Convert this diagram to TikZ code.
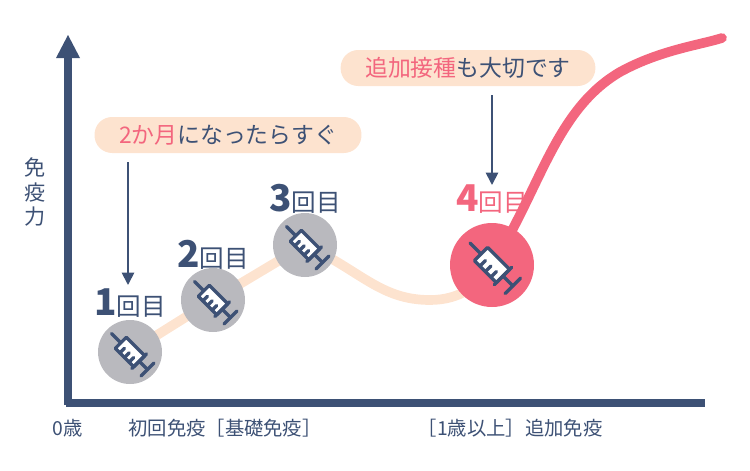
\documentclass[tikz,border=0pt]{standalone}
\usepackage{fontspec}
\setmainfont{Noto Sans CJK JP}
\usetikzlibrary{arrows.meta}
\definecolor{navy}{HTML}{3D5175}
\definecolor{rose}{HTML}{F3667E}
\definecolor{peach}{HTML}{FDE3CF}
\definecolor{disc}{HTML}{B9B9BE}
\tikzset{
  axis/.style={line width=4.5pt, navy},
  dose/.style={circle, minimum size=64*0.02cm, inner sep=0pt},
  count/.style={font=\fontsize{14}{14}\selectfont, text=navy},
  callout/.style={rounded corners=10pt, fill=peach, minimum height=36*0.02cm, inner xsep=14pt, font=\fontsize{13}{13}\selectfont, text=navy},
  pointer/.style={navy, line width=1pt, -{Triangle[length=7pt,width=7pt]}, shorten <=5pt},
  tick/.style={font=\fontsize{11}{11}\selectfont, text=navy},
  syringe/.pic={
    \begin{scope}[rotate=-45, line width=1.9pt, navy, line cap=round, line join=round]
      \draw[fill=white] (-10,-6) rectangle (10,6);
      \draw (-10,0) -- (-20,0);
      \draw (10,-8) -- (10,8);
      \draw (10,0) -- (19,0);
      \draw (19,-7) -- (19,7);
      \foreach \t in {-5,0,5} \draw (\t,6) -- (\t,1);
    \end{scope}
  }
}
\newcommand{\kai}[1]{{\fontsize{21}{21}\selectfont\bfseries #1}回目}
\begin{document}
\begin{tikzpicture}[x=0.02cm, y=-0.02cm]
\useasboundingbox (0,0) rectangle (750,470);

% Kurven
\draw[peach, line width=5.5pt, line cap=round] (130,352) -- (213,300) -- (305,245)
  .. controls (360,270) and (380,300) .. (430,300) .. controls (460,300) and (480,285) .. (492,265);
\draw[rose, line width=5.5pt, line cap=round] (492,265) .. controls (540,190) and (555,110) .. (620,72)
  .. controls (660,50) and (700,45) .. (722,38);

% Achsen
\draw[axis] (68,405) -- (68,58);
\fill[navy] (68,35) -- (80,58) -- (56,58) -- cycle;
\draw[axis] (66,403) -- (705,403);
\node[tick, align=center, font=\fontsize{12}{14}\selectfont] (yl) at (35,192) {免\\疫\\力};
\node[tick] (zero) at (68,428) {0歳};
\node[tick] (first) at (225,428) {初回免疫［基礎免疫］};
\node[tick] (boost) at (510,428) {［1歳以上］追加免疫};

% Impfungen
\node[dose, fill=disc] (d1) at (130,352) {};
\node[dose, fill=disc] (d2) at (213,300) {};
\node[dose, fill=disc] (d3) at (305,245) {};
\node[dose, fill=rose, minimum size=84*0.02cm] (d4) at (492,265) {};
\pic[scale=1.3] at (d1) {syringe};
\pic[scale=1.3] at (d2) {syringe};
\pic[scale=1.3] at (d3) {syringe};
\pic[scale=1.55] at (d4) {syringe};
\node[count] (c1) at (130,303) {\kai{1}};
\node[count] (c2) at (213,255) {\kai{2}};
\node[count] (c3) at (305,199) {\kai{3}};
\node[count, text=rose] (c4) at (492,199) {\kai{4}};

% Hinweise
\node[callout] (soon) at (228,135) {\textcolor{rose}{2か月}になったらすぐ};
\node[callout] (also) at (468,68) {\textcolor{rose}{追加接種}も大切です};
\coordinate (p1) at (128,285);
\coordinate (p4) at (492,185);
\draw[pointer] (soon.south -| p1) -- (p1);
\draw[pointer] (also.south -| p4) -- (p4);
\end{tikzpicture}
\end{document}
